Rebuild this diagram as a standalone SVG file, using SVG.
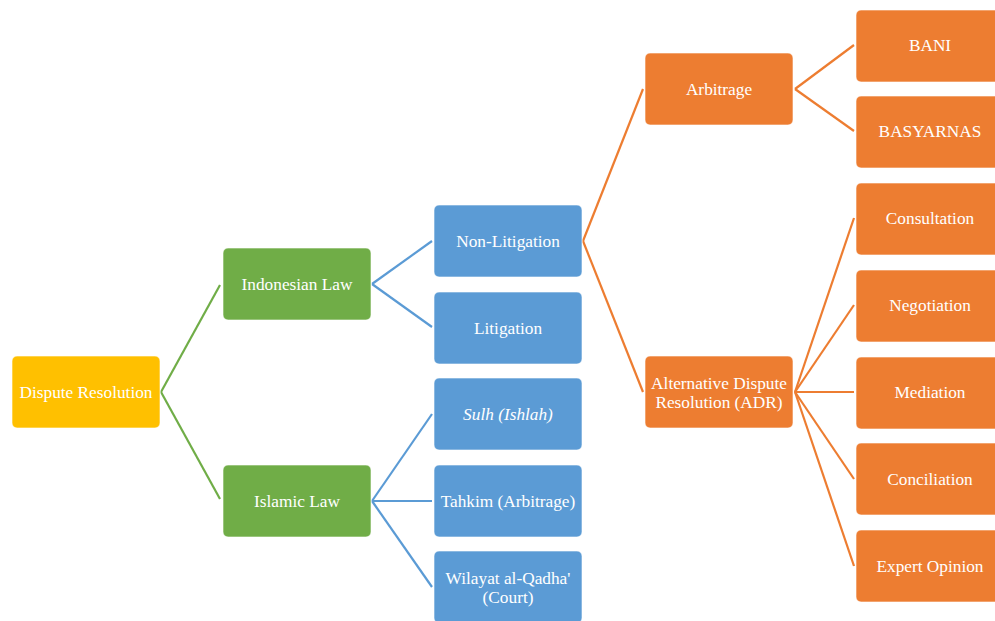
<svg xmlns="http://www.w3.org/2000/svg" width="995" height="621" viewBox="0 0 995 621">
<style>
.n rect{stroke:#ffffff;stroke-opacity:0.6;stroke-width:1}
.y rect{fill:#FFC000}
.g rect{fill:#70AD47}
.b rect{fill:#5B9BD5}
.o rect{fill:#ED7D31}
text{font-family:"Liberation Serif","DejaVu Serif",serif;font-size:17.3px;fill:#ffffff;text-anchor:middle}
.c line{stroke-width:2.2;fill:none}
.cg line{stroke:#70AD47}
.cb line{stroke:#5B9BD5}
.co line{stroke:#ED7D31}
</style>
<rect width="995" height="621" fill="#ffffff"/>
<g id="connectors" class="c">
<g class="cg">
<line x1="161" y1="392" x2="220" y2="285"/>
<line x1="161" y1="392" x2="220" y2="499"/>
</g>
<g class="cb">
<line x1="372" y1="284" x2="432" y2="241"/>
<line x1="372" y1="284" x2="432" y2="327"/>
<line x1="372" y1="501" x2="432" y2="414"/>
<line x1="372" y1="501" x2="432" y2="501"/>
<line x1="372" y1="501" x2="432" y2="587"/>
</g>
<g class="co">
<line x1="583" y1="241" x2="643" y2="89"/>
<line x1="583" y1="241" x2="643" y2="392"/>
<line x1="795" y1="89" x2="854" y2="45"/>
<line x1="795" y1="89" x2="854" y2="131"/>
<line x1="795" y1="392" x2="854" y2="218"/>
<line x1="795" y1="392" x2="854" y2="305"/>
<line x1="795" y1="392" x2="854" y2="392"/>
<line x1="795" y1="392" x2="854" y2="479"/>
<line x1="795" y1="392" x2="854" y2="566"/>
</g>
</g>
<g id="dispute-resolution" class="n y"><rect x="12" y="356" width="148" height="72" rx="5"/><text x="86" y="398">Dispute Resolution</text></g>
<g id="indonesian-law" class="n g"><rect x="223" y="248" width="148" height="72" rx="5"/><text x="297" y="290">Indonesian Law</text></g>
<g id="islamic-law" class="n g"><rect x="223" y="465" width="148" height="72" rx="5"/><text x="297" y="507">Islamic Law</text></g>
<g id="non-litigation" class="n b"><rect x="434" y="205" width="148" height="72" rx="5"/><text x="508" y="247">Non-Litigation</text></g>
<g id="litigation" class="n b"><rect x="434" y="292" width="148" height="72" rx="5"/><text x="508" y="334">Litigation</text></g>
<g id="sulh" class="n b"><rect x="434" y="378" width="148" height="72" rx="5"/><text x="508" y="420" font-style="italic">Sulh (Ishlah)</text></g>
<g id="tahkim" class="n b"><rect x="434" y="465" width="148" height="72" rx="5"/><text x="508" y="507">Tahkim (Arbitrage)</text></g>
<g id="wilayat" class="n b"><rect x="434" y="551" width="148" height="72" rx="5"/><text x="508" y="584">Wilayat al-Qadha'</text><text x="508" y="603">(Court)</text></g>
<g id="arbitrage" class="n o"><rect x="645" y="53" width="148" height="72" rx="5"/><text x="719" y="95">Arbitrage</text></g>
<g id="adr" class="n o"><rect x="645" y="356" width="148" height="72" rx="5"/><text x="719" y="389">Alternative Dispute</text><text x="719" y="408">Resolution (ADR)</text></g>
<g id="bani" class="n o"><rect x="856" y="10" width="148" height="72" rx="5"/><text x="930" y="51">BANI</text></g>
<g id="basyarnas" class="n o"><rect x="856" y="96" width="148" height="72" rx="5"/><text x="930" y="137">BASYARNAS</text></g>
<g id="consultation" class="n o"><rect x="856" y="183" width="148" height="72" rx="5"/><text x="930" y="224">Consultation</text></g>
<g id="negotiation" class="n o"><rect x="856" y="270" width="148" height="72" rx="5"/><text x="930" y="311">Negotiation</text></g>
<g id="mediation" class="n o"><rect x="856" y="357" width="148" height="72" rx="5"/><text x="930" y="398">Mediation</text></g>
<g id="conciliation" class="n o"><rect x="856" y="443" width="148" height="72" rx="5"/><text x="930" y="485">Conciliation</text></g>
<g id="expert-opinion" class="n o"><rect x="856" y="530" width="148" height="72" rx="5"/><text x="930" y="572">Expert Opinion</text></g>
</svg>
